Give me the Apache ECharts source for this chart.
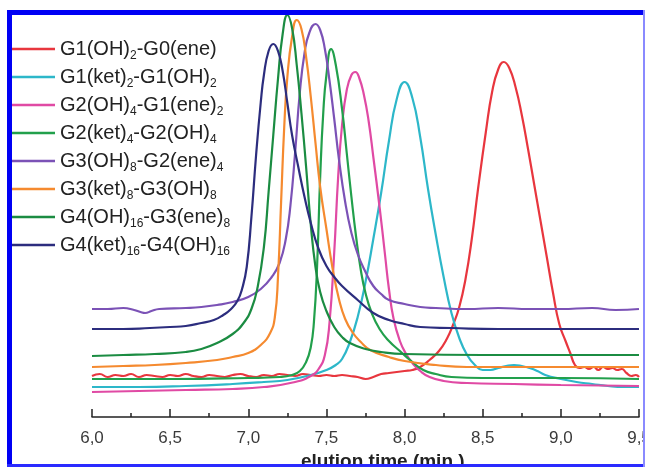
<!DOCTYPE html>
<html>
<head>
<meta charset="utf-8">
<script src="https://cdn.jsdelivr.net/npm/echarts@6/dist/echarts.min.js"></script>
<style>
html,body{margin:0;padding:0;background:#fff;}
#chart{width:645px;height:467px;}
</style>
</head>
<body>
<div id="chart"></div>
<script>
// x: elution time (min), y: detector signal (arbitrary units)
const xTicks = [6.0, 6.5, 7.0, 7.5, 8.0, 8.5, 9.0, 9.5];
const seriesNames = [
  'G1(OH)2-G0(ene)',
  'G1(ket)2-G1(OH)2',
  'G2(OH)4-G1(ene)2',
  'G2(ket)4-G2(OH)4',
  'G3(OH)8-G2(ene)4',
  'G3(ket)8-G3(OH)8',
  'G4(OH)16-G3(ene)8',
  'G4(ket)16-G4(OH)16'
];
const seriesColors = ['#e8363e','#2db7c9','#e04aa4','#22a04c','#7b52b6','#f58a2f','#1b8c42','#2c2d7e'];

const red = [[6.0,41],[6.05,43],[6.1,40],[6.15,42],[6.2,41],[6.25,43],[6.3,40],[6.35,42],[6.4,41],[6.45,40],[6.5,42],[6.55,41],[6.6,43],[6.65,41],[6.7,40],[6.75,42],[6.8,41],[6.85,40],[6.9,42],[6.95,43],[7.0,41],[7.05,40],[7.1,42],[7.15,41],[7.2,43],[7.25,42],[7.3,41],[7.35,43],[7.4,42],[7.45,41],[7.5,42],[7.55,41],[7.6,42],[7.65,41],[7.7,40],[7.75,38],[7.8,40],[7.85,43],[7.9,44],[7.95,45],[8.0,46],[8.05,47],[8.1,50],[8.16,57],[8.22,66],[8.27,78],[8.31,92],[8.35,110],[8.39,138],[8.43,178],[8.47,228],[8.52,285],[8.56,325],[8.6,348],[8.635,355],[8.67,349],[8.71,330],[8.75,302],[8.79,268],[8.83,232],[8.87,196],[8.91,160],[8.95,124],[8.99,93],[9.03,76],[9.06,64],[9.09,52],[9.12,49],[9.15,50],[9.18,48],[9.21,50],[9.24,47],[9.27,50],[9.3,48],[9.33,49],[9.36,47],[9.39,48],[9.42,44],[9.45,41],[9.48,42],[9.5,40]];
const cyan = [[6.0,30],[6.3,30],[6.6,31],[6.9,33],[7.1,35],[7.25,37],[7.4,42],[7.5,47],[7.56,52],[7.6,58],[7.65,75],[7.7,100],[7.75,135],[7.8,178],[7.85,224],[7.9,276],[7.95,318],[8.0,335],[8.05,319],[8.1,280],[8.15,228],[8.2,182],[8.25,140],[8.3,104],[8.35,79],[8.4,62],[8.45,52],[8.5,47],[8.55,47],[8.6,49],[8.65,51],[8.7,52],[8.75,51],[8.8,49],[8.85,46],[8.9,42],[9.0,38],[9.1,35],[9.2,33],[9.3,31],[9.4,30],[9.5,30]];
const magenta = [[6.0,25],[6.3,26],[6.6,27],[6.9,28],[7.1,30],[7.3,35],[7.4,41],[7.45,48],[7.49,62],[7.52,95],[7.55,165],[7.575,240],[7.6,292],[7.63,327],[7.66,342],[7.685,345],[7.71,339],[7.74,322],[7.77,296],[7.8,260],[7.84,210],[7.875,162],[7.9,128],[7.93,98],[7.97,76],[8.01,63],[8.05,54],[8.1,46],[8.16,40],[8.25,36],[8.4,34],[8.7,33],[9.0,32],[9.5,31]];
const green2 = [[6.0,38],[6.5,38],[7.0,39],[7.2,40],[7.28,42],[7.33,46],[7.37,55],[7.4,70],[7.42,95],[7.44,150],[7.46,240],[7.48,305],[7.5,342],[7.53,368],[7.56,352],[7.6,308],[7.63,264],[7.66,220],[7.69,180],[7.72,147],[7.75,124],[7.79,104],[7.84,88],[7.9,76],[7.97,66],[8.05,55],[8.12,47],[8.2,43],[8.3,40],[8.5,39],[9.0,39],[9.5,38]];
const purple = [[6.0,108],[6.1,108],[6.2,109],[6.27,107],[6.31,105],[6.34,104],[6.38,106],[6.43,108],[6.6,109],[6.7,110],[6.8,112],[6.9,115],[7.0,120],[7.08,128],[7.15,140],[7.2,154],[7.24,178],[7.27,212],[7.3,265],[7.33,325],[7.36,364],[7.39,384],[7.43,393],[7.46,387],[7.49,368],[7.52,336],[7.55,298],[7.58,258],[7.62,215],[7.66,184],[7.7,163],[7.75,145],[7.8,131],[7.85,123],[7.9,117],[8.0,113],[8.1,110],[8.2,109],[8.4,108],[8.6,109],[8.8,108],[9.0,108],[9.2,109],[9.35,107],[9.5,108]];
const orange = [[6.0,50],[6.2,51],[6.4,52],[6.6,54],[6.8,57],[6.9,60],[7.0,64],[7.08,72],[7.14,84],[7.17,100],[7.19,140],[7.21,215],[7.23,290],[7.25,340],[7.28,380],[7.31,397],[7.34,388],[7.37,360],[7.4,320],[7.43,274],[7.46,230],[7.5,188],[7.54,148],[7.58,118],[7.62,98],[7.67,84],[7.72,75],[7.78,67],[7.9,60],[8.0,56],[8.2,52],[8.4,50],[9.0,50],[9.5,50]];
const green1 = [[6.0,61],[6.2,62],[6.4,63],[6.6,65],[6.7,68],[6.8,74],[6.9,83],[6.97,94],[7.02,108],[7.06,130],[7.1,170],[7.13,225],[7.16,282],[7.19,338],[7.22,383],[7.25,402],[7.28,389],[7.31,352],[7.34,304],[7.37,250],[7.4,192],[7.43,150],[7.46,125],[7.5,106],[7.55,90],[7.6,80],[7.65,74],[7.75,68],[7.85,65],[8.0,63],[8.5,62],[9.0,62],[9.5,62]];
const navy = [[6.0,88],[6.2,88],[6.37,89],[6.5,90],[6.6,91],[6.7,94],[6.78,97],[6.84,102],[6.89,108],[6.93,116],[6.96,128],[6.99,150],[7.02,200],[7.05,262],[7.08,315],[7.1,342],[7.13,366],[7.16,373],[7.19,366],[7.22,346],[7.25,314],[7.28,282],[7.32,250],[7.36,220],[7.4,194],[7.45,168],[7.5,151],[7.55,140],[7.6,131],[7.7,117],[7.8,104],[7.9,97],[8.0,93],[8.1,90],[8.3,89],[8.6,88],[9.0,88],[9.5,88]];

const seriesData = [red, cyan, magenta, green2, purple, orange, green1, navy];
const FONT = 'Liberation Sans, Arial, Helvetica, sans-serif';

function legendFmt(name) {
  const parts = name.split(/(\)\d+)/);
  let out = '';
  parts.forEach(p => {
    if (!p) return;
    const m = p.match(/^\)(\d+)$/);
    if (m) out += '{n|)}{s|' + m[1] + '}';
    else out += '{n|' + p + '}';
  });
  return out;
}

const chart = echarts.init(document.getElementById('chart'), null, {renderer: 'canvas'});
chart.setOption({
  backgroundColor: '#ffffff',
  animation: false,
  grid: {left: 92, right: 6, top: 15, bottom: 50, containLabel: false, outerBoundsMode: 'none'},
  legend: {
    orient: 'vertical',
    left: 10,
    top: 39,
    padding: 0,
    itemWidth: 45,
    itemHeight: 2.5,
    itemGap: 5,
    icon: 'rect',
    data: seriesNames,
    formatter: legendFmt,
    textStyle: {
      color: '#222',
      fontFamily: FONT,
      rich: {
        n: {fontSize: 20, lineHeight: 26, fontFamily: FONT, color: '#222', verticalAlign: 'middle'},
        s: {fontSize: 12, lineHeight: 10, fontFamily: FONT, color: '#222', verticalAlign: 'bottom'}
      }
    }
  },
  xAxis: {
    type: 'value',
    min: 6,
    max: 9.5,
    interval: 0.5,
    axisLine: {show: true, onZero: false, lineStyle: {color: '#222', width: 1.5}},
    axisTick: {show: true, inside: true, length: 8, lineStyle: {color: '#222', width: 1.5}},
    minorTick: {show: true, splitNumber: 2, length: 4, lineStyle: {color: '#222', width: 1.5}},
    splitLine: {show: false},
    axisLabel: {
      margin: 13,
      fontSize: 17,
      color: '#3a3a3a',
      fontFamily: FONT,
      formatter: v => v.toFixed(1).replace('.', ',')
    }
  },
  yAxis: {
    type: 'value',
    min: 0,
    max: 402,
    show: false,
    splitLine: {show: false}
  },
  series: seriesNames.map((name, i) => ({
    name: name,
    type: 'line',
    data: seriesData[i],
    symbol: 'none',
    smooth: 0.5,
    clip: false,
    lineStyle: {color: seriesColors[i], width: 2.2},
    itemStyle: {color: seriesColors[i]},
    z: 2 + i
  })),
  graphic: [
    {type: 'text', left: 301, top: 452, z: 50,
     style: {text: 'elution time (min.)', font: 'bold 19px ' + FONT, fill: '#222'}},
    {type: 'rect', z: 100, shape: {x: 7, y: 10, width: 638, height: 5}, style: {fill: '#0000f4'}},
    {type: 'rect', z: 100, shape: {x: 7, y: 10, width: 5, height: 457}, style: {fill: '#0000f4'}},
    {type: 'rect', z: 100, shape: {x: 7, y: 464, width: 638, height: 3}, style: {fill: '#2a2aff'}},
    {type: 'rect', z: 100, shape: {x: 643, y: 10, width: 2, height: 457}, style: {fill: '#8a8aff'}}
  ]
});
</script>
</body>
</html>
